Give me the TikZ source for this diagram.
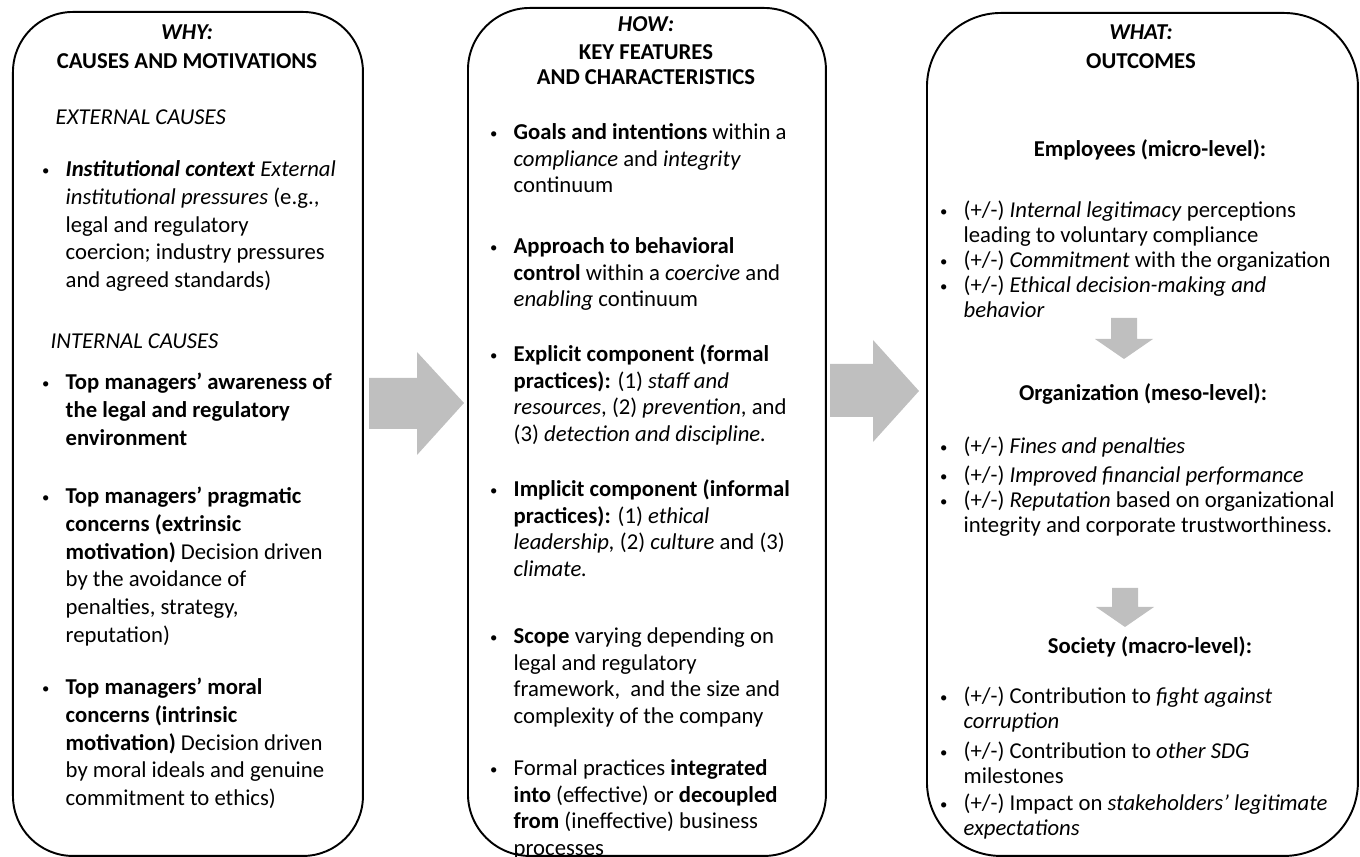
\documentclass[tikz,border=0pt]{standalone}
\usepackage{fontspec}
\setmainfont{Carlito}
\usepackage{tikz}
\usetikzlibrary{positioning}
\definecolor{flowgray}{HTML}{BFBFBF}
\newcommand{\bul}{\strut\llap{\raisebox{0.25pt}{\fontsize{4.2pt}{4.2pt}\selectfont\textbullet}\hspace{4.6pt}}}

\begin{document}
\begin{tikzpicture}[x=0.1mm,y=-0.1mm,
  panel/.style={draw=black,line width=0.55pt,rounded corners=#1,inner sep=0,anchor=north west},
  body/.style={anchor=north west,inner sep=0,align=left},
  bodyA/.style={body,font=\fontsize{6.46pt}{7.94pt}\selectfont},
  bodyB/.style={body,font=\fontsize{6.46pt}{7.6pt}\selectfont},
  bodyC/.style={body,font=\fontsize{6.46pt}{7.1pt}\selectfont},
  head/.style={anchor=base,inner sep=0,font=\fontsize{6.46pt}{7.9pt}\selectfont\bfseries},
  sub/.style={anchor=base west,inner sep=0,font=\fontsize{6.46pt}{7.9pt}\selectfont\itshape},
  flowarrow/.style={fill=flowgray}]
  \useasboundingbox (0,0) rectangle (1360,857);

  % the three panels
  \node[panel=6mm,minimum width=35mm,minimum height=84.4mm] (why) at (12,11) {};
  \node[panel=6.2mm,minimum width=35.8mm,minimum height=84.8mm] (how) at (467,7) {};
  \node[panel=7.4mm,minimum width=43.1mm,minimum height=84.3mm] (what) at (926,12) {};

  % big arrows between panels
  \fill[flowarrow] (369,378) -- (417,378) -- (417,352) -- (464,403) -- (417,455) -- (417,429) -- (369,429) -- cycle;
  \fill[flowarrow] (830,364) -- (873,364) -- (873,340) -- (919,391) -- (873,442) -- (873,417) -- (830,417) -- cycle;

  % why
  \node[head] (whyA) at (187,40) {\textit{WHY:}};
  \node[head] (whyB) at (187,69) {CAUSES AND MOTIVATIONS};
  \node[sub] (extc) at (55,125) {EXTERNAL CAUSES};
  \node[bodyA] (why1) at (65,156) {\bul\textbf{\textit{Institutional context}} \textit{External}\\
    \textit{institutional pressures} (e.g.,\\
    legal and regulatory\\
    coercion; industry pressures\\
    and agreed standards)};
  \node[sub] (intc) at (50,349) {INTERNAL CAUSES};
  \node[bodyA] (why2) at (65,369) {\bul\textbf{Top managers' awareness of}\\
    \textbf{the legal and regulatory}\\
    \textbf{environment}};
  \node[bodyA] (why3) at (65,483) {\bul\textbf{Top managers' pragmatic}\\
    \textbf{concerns (extrinsic}\\
    \textbf{motivation)} Decision driven\\
    by the avoidance of\\
    penalties, strategy,\\
    reputation)};
  \node[bodyA] (why4) at (65,674) {\bul\textbf{Top managers' moral}\\
    \textbf{concerns (intrinsic}\\
    \textbf{motivation)} Decision driven\\
    by moral ideals and genuine\\
    commitment to ethics)};

  % how
  \node[head] (howA) at (646,32) {\textit{HOW:}};
  \node[head] (howB) at (646,60) {KEY FEATURES};
  \node[head] (howC) at (646,85) {AND CHARACTERISTICS};
  \node[bodyB] (how1) at (513,120) {\bul\textbf{Goals and intentions} within a\\
    \textit{compliance} and \textit{integrity}\\
    continuum};
  \node[bodyB] (how2) at (513,234) {\bul\textbf{Approach to behavioral}\\
    \textbf{control} within a \textit{coercive} and\\
    \textit{enabling} continuum};
  \node[bodyB] (how3) at (513,342) {\bul\textbf{Explicit component (formal}\\
    \textbf{practices):} (1) \textit{staff and}\\
    \textit{resources}, (2) \textit{prevention}, and\\
    (3) \textit{detection and discipline.}};
  \node[bodyB] (how4) at (513,477) {\bul\textbf{Implicit component (informal}\\
    \textbf{practices):} (1) \textit{ethical}\\
    \textit{leadership,} (2) \textit{culture} and (3)\\
    \textit{climate.}};
  \node[bodyB] (how5) at (513,624) {\bul\textbf{Scope} varying depending on\\
    legal and regulatory\\
    framework,\ \ and the size and\\
    complexity of the company};
  \node[bodyB] (how6) at (513,756) {\bul Formal practices \textbf{integrated}\\
    \textbf{into} (effective) or \textbf{decoupled}\\
    \textbf{from} (ineffective) business\\
    processes};

  % what
  \node[head] (whatA) at (1141,40) {\textit{WHAT:}};
  \node[head] (whatB) at (1141,69) {OUTCOMES};
  \node[head] (micro) at (1150,157) {Employees (micro-level):};
  \node[bodyC] (emp1) at (963,199) {\bul(+/-) \textit{Internal legitimacy} perceptions\\
    leading to voluntary compliance};
  \node[bodyC] (emp2) at (963,249) {\bul(+/-) \textit{Commitment} with the organization};
  \node[bodyC] (emp3) at (963,274) {\bul(+/-) \textit{Ethical decision-making and}\\
    \textit{behavior}};
  \fill[flowarrow] (1111,318) -- (1137,318) -- (1137,339) -- (1153,339) -- (1124,359) -- (1095,339) -- (1111,339) -- cycle;
  \node[head] (meso) at (1143,401) {Organization (meso-level):};
  \node[bodyC] (org1) at (963,435) {\bul(+/-) \textit{Fines and penalties}};
  \node[bodyC] (org2) at (963,464) {\bul(+/-) \textit{Improved financial performance}};
  \node[bodyC] (org3) at (963,489) {\bul(+/-) \textit{Reputation} based on organizational\\
    integrity and corporate trustworthiness.};
  \fill[flowarrow] (1112,588) -- (1138,588) -- (1138,607) -- (1154,607) -- (1125,627) -- (1096,607) -- (1112,607) -- cycle;
  \node[head] (macro) at (1150,654) {Society (macro-level):};
  \node[bodyC] (soc1) at (963,685) {\bul(+/-) Contribution to \textit{fight against}\\
    \textit{corruption}};
  \node[bodyC] (soc2) at (963,740) {\bul(+/-) Contribution to \textit{other SDG}\\
    milestones};
  \node[bodyC] (soc3) at (963,792) {\bul(+/-) Impact on \textit{stakeholders' legitimate}\\
    \textit{expectations}};
\end{tikzpicture}
\end{document}
